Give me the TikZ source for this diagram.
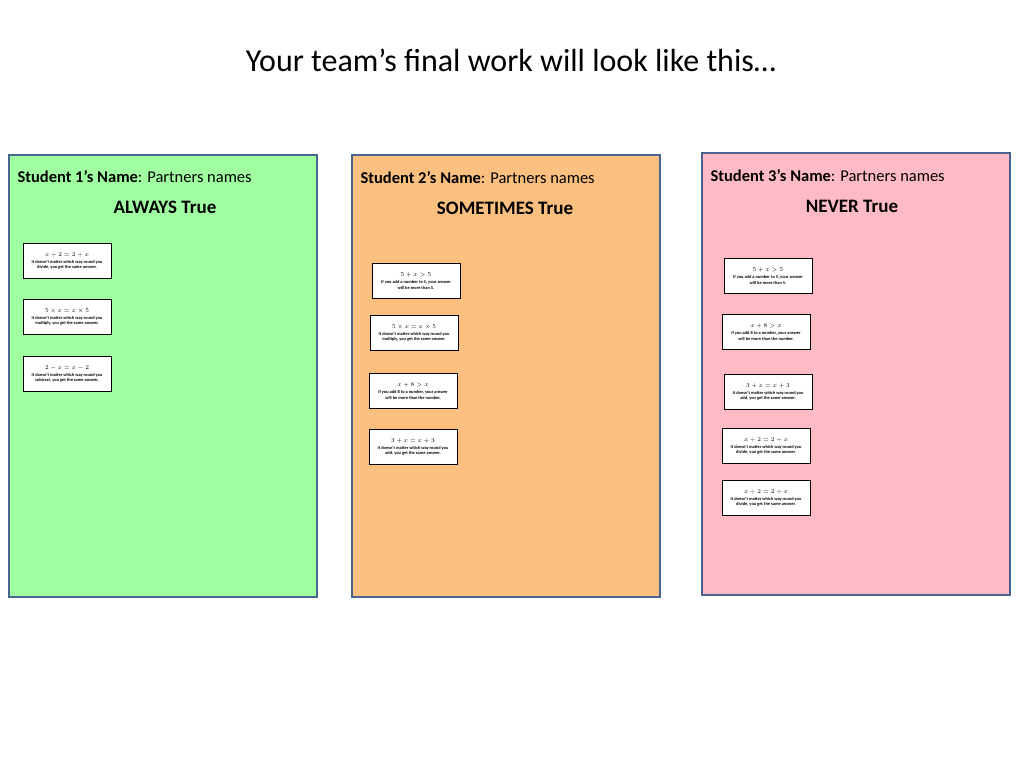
\documentclass[tikz,border=0pt]{standalone}
\usepackage{fontspec}
\setmainfont{Carlito}
\begin{document}
\begin{tikzpicture}[x=1pt,y=-1pt,
  panel/.style={draw=panelline,line width=2.2pt},
  head/.style={anchor=west,font=\fontsize{16.5}{19}\selectfont},
  verdict/.style={font=\bfseries\fontsize{19}{22}\selectfont},
  card/.style={draw,fill=white,line width=1pt,minimum width=88pt,minimum height=35pt,
    inner sep=1pt,align=center,font=\bfseries\fontsize{4.4}{5.4}\selectfont}]
\definecolor{panelline}{HTML}{4A6490}
\definecolor{greenbg}{HTML}{A0FFA0}
\definecolor{orangebg}{HTML}{FBBF80}
\definecolor{pinkbg}{HTML}{FFBBC5}
\newcommand{\eqline}[1]{{\fontsize{6}{8}\selectfont$#1$}\\[2pt]}
\useasboundingbox (0,0) rectangle (1024,768);
\node (title) at (511,60) {\fontsize{32}{38}\selectfont Your team’s final work will look like this…};
% panels
\fill[greenbg] (9,155) rectangle (317,597);
\draw[panel] (9,155) rectangle (317,597);
\fill[orangebg] (352,155) rectangle (660,597);
\draw[panel] (352,155) rectangle (660,597);
\fill[pinkbg] (702,153) rectangle (1010,595);
\draw[panel] (702,153) rectangle (1010,595);
% headings
\node[head] (name1) at (14,177) {\textbf{Student 1’s Name}: Partners names};
\node[verdict] (always) at (165,207) {ALWAYS True};
\node[head] (name2) at (357,178) {\textbf{Student 2’s Name}: Partners names};
\node[verdict] (sometimes) at (505,208) {SOMETIMES True};
\node[head] (name3) at (707,176) {\textbf{Student 3’s Name}: Partners names};
\node[verdict] (never) at (852,206) {NEVER True};
% always cards
\node[card] (a1) at (67,261) {\eqline{x \div 2 = 2 \div x}It doesn’t matter which way round you\\ divide, you get the same answer.};
\node[card] (a2) at (67,317) {\eqline{5 \times x = x \times 5}It doesn’t matter which way round you\\ multiply, you get the same answer.};
\node[card] (a3) at (67,374) {\eqline{2 - x = x - 2}It doesn’t matter which way round you\\ subtract, you get the same answer.};
% sometimes cards
\node[card] (s1) at (416,281) {\eqline{5 + x > 5}If you add a number to 5, your answer\\ will be more than 5.};
\node[card] (s2) at (414,333) {\eqline{5 \times x = x \times 5}It doesn’t matter which way round you\\ multiply, you get the same answer.};
\node[card] (s3) at (413,391) {\eqline{x + 8 > x}If you add 8 to a number, your answer\\ will be more than the number.};
\node[card] (s4) at (413,447) {\eqline{3 + x = x + 3}It doesn’t matter which way round you\\ add, you get the same answer.};
% never cards
\node[card] (n1) at (768,276) {\eqline{5 + x > 5}If you add a number to 5, your answer\\ will be more than 5.};
\node[card] (n2) at (766,332) {\eqline{x + 8 > x}If you add 8 to a number, your answer\\ will be more than the number.};
\node[card] (n3) at (768,392) {\eqline{3 + x = x + 3}It doesn’t matter which way round you\\ add, you get the same answer.};
\node[card] (n4) at (766,446) {\eqline{x \div 2 = 2 \div x}It doesn’t matter which way round you\\ divide, you get the same answer.};
\node[card] (n5) at (766,498) {\eqline{x \div 2 = 2 \div x}It doesn’t matter which way round you\\ divide, you get the same answer.};
\end{tikzpicture}
\end{document}
